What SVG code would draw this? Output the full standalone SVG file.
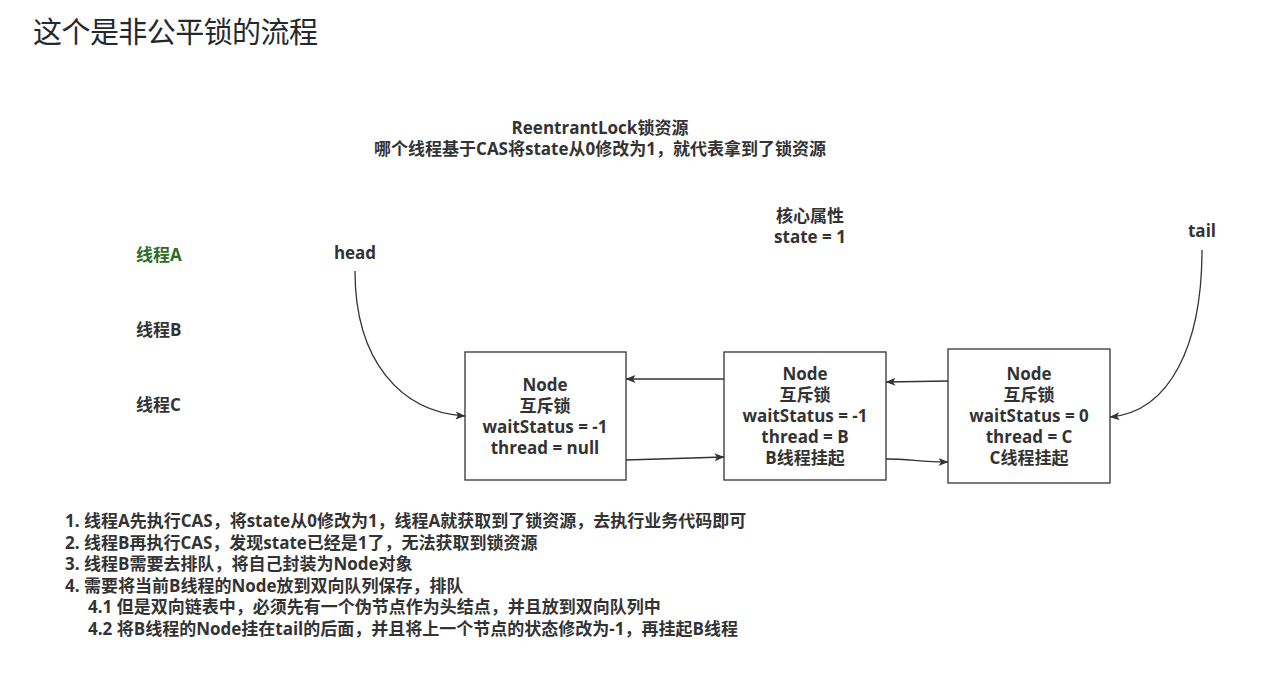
<svg xmlns="http://www.w3.org/2000/svg" width="1270" height="674" viewBox="0 0 1270 674">
<style>
text{font-family:"Open Sans","Noto Sans CJK SC",sans-serif;}
.t{font-family:"Noto Sans CJK SC",sans-serif;}
.b{font-weight:bold;font-size:17px;fill:#333333;}
.c{text-anchor:middle;}
.l{font-weight:bold;font-size:17px;fill:#333333;}
.g{fill:#2e6b25;}
.box{fill:#ffffff;stroke:#333333;stroke-width:1.3;}
.e{fill:none;stroke:#333333;stroke-width:1.3;marker-end:url(#ah);}
</style>
<defs>
<marker id="ah" viewBox="0 0 10 8" refX="9.5" refY="4" markerWidth="10" markerHeight="8" markerUnits="userSpaceOnUse" orient="auto">
<path d="M0,0 L10,4 L0,8 L2.5,4 z" fill="#333333"/>
</marker>
</defs>
<rect width="1270" height="674" fill="#ffffff"/>
<text class="t" x="33" y="43" font-size="29" fill="#24292e" textLength="285" lengthAdjust="spacing">这个是非公平锁的流程</text>
<g id="header">
<text class="b c" x="600" y="134">ReentrantLock锁资源</text>
<text class="b c" x="600" y="155">哪个线程基于CAS将state从0修改为1，就代表拿到了锁资源</text>
</g>
<g id="core">
<text class="b c" x="810" y="222">核心属性</text>
<text class="b c" x="810" y="243">state = 1</text>
</g>
<g id="threadA"><text class="b g" x="136" y="261">线程A</text></g>
<g id="threadB"><text class="b" x="136" y="336">线程B</text></g>
<g id="threadC"><text class="b" x="136" y="411">线程C</text></g>
<g id="head"><text class="b c" x="355" y="259">head</text></g>
<g id="tail"><text class="b c" x="1202" y="237">tail</text></g>
<g id="node1">
<rect class="box" x="465" y="352" width="161" height="128"/>
<text class="b c" x="545" y="391">Node</text>
<text class="b c" x="545" y="412">互斥锁</text>
<text class="b c" x="545" y="433">waitStatus = -1</text>
<text class="b c" x="545" y="454">thread = null</text>
</g>
<g id="node2">
<rect class="box" x="724" y="352" width="162" height="128"/>
<text class="b c" x="805" y="380">Node</text>
<text class="b c" x="805" y="401">互斥锁</text>
<text class="b c" x="805" y="422">waitStatus = -1</text>
<text class="b c" x="805" y="443">thread = B</text>
<text class="b c" x="805" y="464">B线程挂起</text>
</g>
<g id="node3">
<rect class="box" x="948" y="349" width="162" height="134"/>
<text class="b c" x="1029" y="380">Node</text>
<text class="b c" x="1029" y="401">互斥锁</text>
<text class="b c" x="1029" y="422">waitStatus = 0</text>
<text class="b c" x="1029" y="443">thread = C</text>
<text class="b c" x="1029" y="464">C线程挂起</text>
</g>
<g id="connectors">
<path class="e" d="M355,271 C355,360 400,412 465,416"/>
<path class="e" d="M1202,250 C1202,345 1170,412 1110,417"/>
<path class="e" d="M724,379 L626,379"/>
<path class="e" d="M626,460 L724,457"/>
<path class="e" d="M948,381 L886,382"/>
<path class="e" d="M886,459 C910,459 920,462 948,462"/>
</g>
<g id="notes">
<text class="l" x="65" y="527">1. 线程A先执行CAS，将state从0修改为1，线程A就获取到了锁资源，去执行业务代码即可</text>
<text class="l" x="65" y="549">2. 线程B再执行CAS，发现state已经是1了，无法获取到锁资源</text>
<text class="l" x="65" y="570">3. 线程B需要去排队，将自己封装为Node对象</text>
<text class="l" x="65" y="592">4. 需要将当前B线程的Node放到双向队列保存，排队</text>
<text class="l" x="88" y="613">4.1 但是双向链表中，必须先有一个伪节点作为头结点，并且放到双向队列中</text>
<text class="l" x="88" y="635">4.2 将B线程的Node挂在tail的后面，并且将上一个节点的状态修改为-1，再挂起B线程</text>
</g>
</svg>
